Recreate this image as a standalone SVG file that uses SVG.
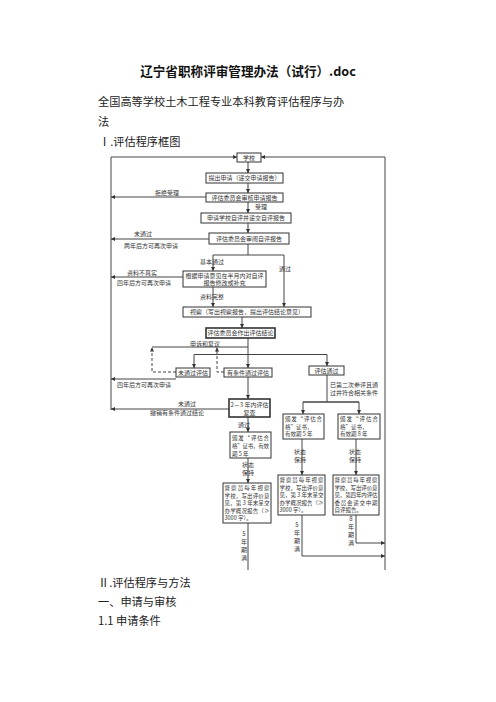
<svg xmlns="http://www.w3.org/2000/svg" width="496" height="702" viewBox="0 0 496 702">
<style>
.body{font-family:"Noto Sans CJK SC","Noto Sans",sans-serif;font-size:11.2px;fill:#222}
.title{font-family:"Noto Sans CJK SC","Noto Sans",sans-serif;font-size:12.6px;font-weight:bold;fill:#111}
.t{font-family:"Noto Sans CJK SC",sans-serif;font-size:6px;fill:#333}
.s{font-family:"Noto Sans CJK SC",sans-serif;font-size:5.5px;fill:#333}
.c{text-anchor:middle}
.box{fill:#fff;stroke:#333;stroke-width:1}
.thick{stroke-width:1.6}
.ln{fill:none;stroke:#444;stroke-width:1}
.ar{marker-end:url(#ah)}
.dash{stroke-dasharray:3,2}
</style>
<defs>
<marker id="ah" viewBox="0 0 6 6" refX="6" refY="3" markerWidth="4" markerHeight="4" markerUnits="userSpaceOnUse" orient="auto"><path d="M0,0L6,3L0,6z" fill="#333"/></marker>
</defs>
<rect width="496" height="702" fill="#fff"/>
<text class="title c" x="248" y="76">辽宁省职称评审管理办法（试行）.doc</text>
<text class="body" x="98" y="106">全国高等学校土木工程专业本科教育评估程序与办</text>
<text class="body" x="98" y="126">法</text>
<text class="body" x="99" y="146">Ⅰ.评估程序框图</text>
<text class="body" x="98" y="587">Ⅱ.评估程序与方法</text>
<text class="body" x="98" y="606">一、申请与审核</text>
<text class="body" x="98" y="625">1.1 申请条件</text>

<g id="connectors">
<path class="ln ar" d="M111,157H237"/>
<path class="ln ar" d="M385,157H261"/>
<path class="ln" d="M111,157V410"/>
<path class="ln" d="M385,157V570"/>
<path class="ln ar" d="M248,162V173"/>
<path class="ln ar" d="M248,183V193"/>
<path class="ln ar" d="M248,202V213"/>
<path class="ln ar" d="M248,223V233"/>
<path class="ln" d="M248,244V255M213,255H284"/>
<path class="ln ar" d="M213,255V271"/>
<path class="ln ar" d="M284,255V307"/>
<path class="ln ar" d="M213,287V307"/>
<path class="ln ar" d="M242,317V328"/>
<path class="ln ar" d="M206,197H111"/>
<path class="ln ar" d="M209,239H111"/>
<path class="ln ar" d="M183,277H111"/>
<path class="ln ar" d="M248,338V368"/>
<path class="ln" d="M152,347H248"/>
<path class="ln" d="M194,354.5H327"/>
<path class="ln ar" d="M194,354.5V368"/>
<path class="ln ar" d="M327,354.5V366"/>
<path class="ln dash ar" d="M176,372H152V347.5"/>
<path class="ln dash ar" d="M224,372H217V347.5"/>
<path class="ln ar" d="M176,379H111"/>
<path class="ln ar" d="M248,377V399"/>
<path class="ln ar" d="M229,409H111"/>
<path class="ln ar" d="M248,417V432"/>
<path class="ln ar" d="M248,458V483"/>
<path class="ln" d="M327,375V402"/>
<path class="ln" style="stroke-width:1.6" d="M303,402H359"/>
<path class="ln ar" d="M303,402V414"/>
<path class="ln ar" d="M359,402V414"/>
<path class="ln ar" d="M302,439V475"/>
<path class="ln ar" d="M356,439V475"/>
<path class="ln" d="M248,523V570"/>
<path class="ln ar" d="M302,515V556H385"/>
<path class="ln ar" d="M356,515V543H385"/>
</g>

<g id="labels">
<text class="t c" x="167" y="195">拒绝受理</text>
<text class="t c" x="261" y="209">受理</text>
<text class="t c" x="143" y="236">未通过</text>
<text class="t c" x="151" y="248">两年后方可再次申请</text>
<text class="t c" x="212" y="264">基本通过</text>
<text class="t c" x="285" y="271">通过</text>
<text class="t c" x="142" y="275">资料不真实</text>
<text class="t c" x="144" y="285">四年后方可再次申请</text>
<text class="t c" x="212" y="299">资料完整</text>
<text class="t c" x="205" y="345.5">申诉和复议</text>
<text class="t c" x="144" y="387">四年后方可再次申请</text>
<text class="t" x="330" y="387">已第二次参评且通</text>
<text class="t" x="330" y="395">过并符合相关条件</text>
<text class="t c" x="187" y="406">未通过</text>
<text class="t c" x="177" y="415">撤销有条件通过结论</text>
<text class="t c" x="244" y="427">通过</text>
<text class="t c" x="248" y="467">状态</text>
<text class="t c" x="248" y="475">保持</text>
<text class="t c" x="300" y="454">状态</text>
<text class="t c" x="300" y="462">保持</text>
<text class="t c" x="355" y="454">状态</text>
<text class="t c" x="355" y="462">保持</text>
<text class="t c" x="244" y="536">5</text><text class="t c" x="244" y="544">年</text><text class="t c" x="244" y="552">期</text><text class="t c" x="244" y="560">满</text>
<text class="t c" x="297" y="527">5</text><text class="t c" x="297" y="535">年</text><text class="t c" x="297" y="543">期</text><text class="t c" x="297" y="551">满</text>
<text class="t c" x="351" y="521">8</text><text class="t c" x="351" y="529">年</text><text class="t c" x="351" y="537">期</text><text class="t c" x="351" y="545">满</text>
</g>

<g id="n-school"><rect class="box" x="237" y="153" width="24" height="9"/><text class="t c" x="249" y="160">学校</text></g>
<g id="n-apply"><rect class="box" x="206" y="173" width="77" height="10"/><text class="t c" x="244.5" y="180.2">提出申请（递交申请报告）</text></g>
<g id="n-review"><rect class="box" x="206" y="193" width="77" height="9"/><text class="t c" x="244.5" y="199.8">评估委员会审核申请报告</text></g>
<g id="n-self"><rect class="box" x="201" y="213" width="90" height="10"/><text class="t c" x="246" y="220.2">申请学校自评并递交自评报告</text></g>
<g id="n-readself"><rect class="box" x="209" y="233" width="80" height="11"/><text class="t c" x="249" y="240.7">评估委员会审阅自评报告</text></g>
<g id="n-revise"><rect class="box" x="183" y="271" width="83" height="16"/><text class="t c" x="224.5" y="277.5">根据申请意见在半月内对自评</text><text class="t c" x="224.5" y="285">报告修改或补充</text></g>
<g id="n-visit"><rect class="box" x="183" y="307" width="128" height="10"/><text class="t c" x="247" y="314.2">视察（写出视察报告，提出评估结论意见）</text></g>
<g id="n-conclude"><rect class="box thick" x="206" y="328" width="69" height="10"/><text class="t c" x="240.5" y="335.2">评估委员会作出评估结论</text></g>
<g id="n-fail"><rect class="box" x="176" y="368" width="34" height="9"/><text class="t c" x="193" y="374.8">未通过评估</text></g>
<g id="n-cond"><rect class="box" x="224" y="368" width="48" height="9"/><text class="t c" x="248" y="374.8">有条件通过评估</text></g>
<g id="n-pass"><rect class="box" x="309" y="366" width="35" height="9"/><text class="t c" x="326.5" y="372.8">评估通过</text></g>
<g id="n-recheck"><rect class="box thick" x="229" y="399" width="41" height="18"/><text class="t c" x="249.5" y="406.5">2－3 年内评估</text><text class="t c" x="249.5" y="414.5">复查</text></g>
<g id="n-cert5c"><rect class="box" x="230" y="432" width="41" height="26"/><text class="s" x="232" y="439.5" textLength="37" lengthAdjust="spacing">颁发“评估合</text><text class="s" x="232" y="447.5" textLength="37" lengthAdjust="spacing">格”证书，有效</text><text class="s" x="232" y="455.5">期 5 年</text></g>
<g id="n-cert5"><rect class="box" x="283" y="414" width="41" height="25"/><text class="s" x="285" y="421" textLength="37" lengthAdjust="spacing">颁发“评估合</text><text class="s" x="285" y="428.5">格”证书，</text><text class="s" x="285" y="436">有效期 5 年</text></g>
<g id="n-cert8"><rect class="box" x="338" y="414" width="42" height="25"/><text class="s" x="340" y="421" textLength="38" lengthAdjust="spacing">颁发“评估合</text><text class="s" x="340" y="428.5">格”证书，</text><text class="s" x="340" y="436">有效期 8 年</text></g>
<g id="n-insp5c"><rect class="box" x="223" y="483" width="48" height="40"/><text class="s" x="224.5" y="490" textLength="45" lengthAdjust="spacing">督察员每年视察</text><text class="s" x="224.5" y="497.5" textLength="45" lengthAdjust="spacing">学校，写出评价意</text><text class="s" x="224.5" y="505" textLength="45" lengthAdjust="spacing">见，第 3 年末呈交</text><text class="s" x="224.5" y="512.5" textLength="45" lengthAdjust="spacing">办学概况报告（≥</text><text class="s" x="224.5" y="520">3000 字）。</text></g>
<g id="n-insp5"><rect class="box" x="278" y="475" width="47" height="40"/><text class="s" x="279.5" y="482" textLength="44" lengthAdjust="spacing">督察员每年视察</text><text class="s" x="279.5" y="489.5" textLength="44" lengthAdjust="spacing">学校，写出评价意</text><text class="s" x="279.5" y="497" textLength="44" lengthAdjust="spacing">见，第 3 年末呈交</text><text class="s" x="279.5" y="504.5" textLength="44" lengthAdjust="spacing">办学概况报告（≥</text><text class="s" x="279.5" y="512">3000 字）。</text></g>
<g id="n-insp8"><rect class="box" x="333" y="475" width="46" height="40"/><text class="s" x="334.5" y="482" textLength="43" lengthAdjust="spacing">督察员每年视察</text><text class="s" x="334.5" y="489.5" textLength="43" lengthAdjust="spacing">学校，写出评价意</text><text class="s" x="334.5" y="497" textLength="43" lengthAdjust="spacing">见，第四年内评估</text><text class="s" x="334.5" y="504.5" textLength="43" lengthAdjust="spacing">委员会递交中期</text><text class="s" x="334.5" y="512">自评报告。</text></g>
</svg>
